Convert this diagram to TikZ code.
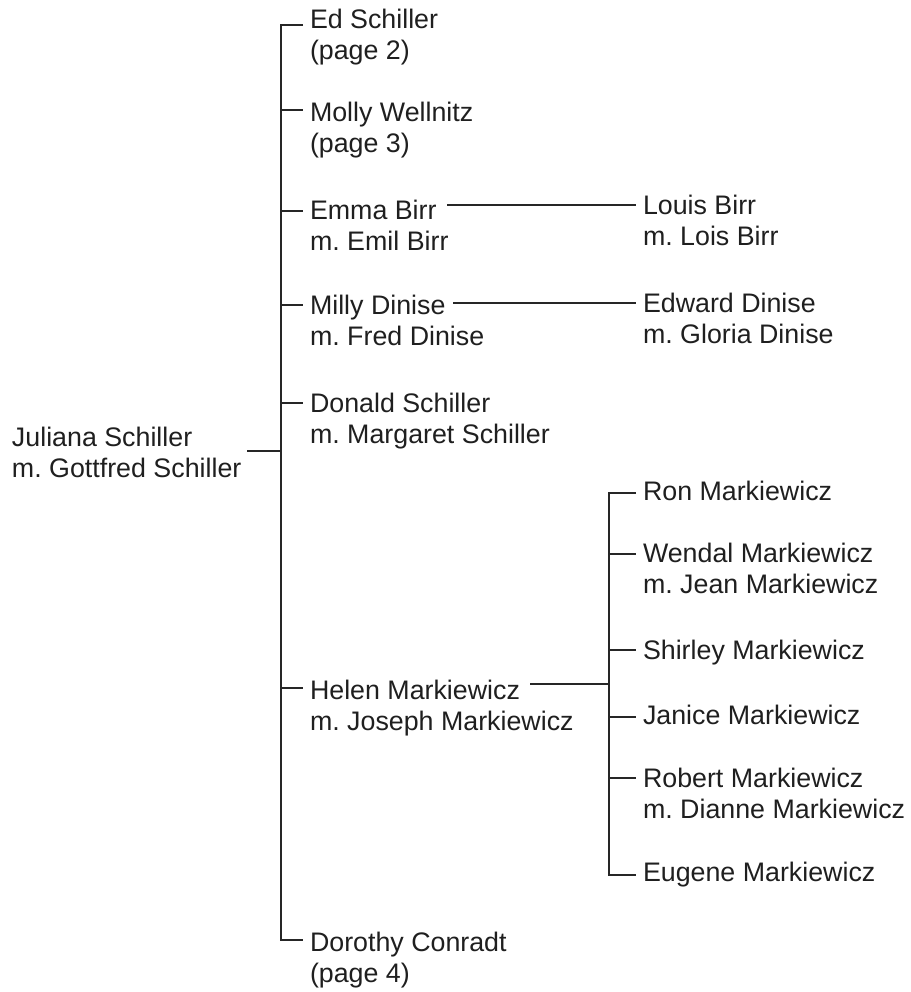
\documentclass[tikz,border=0pt]{standalone}
\usepackage{fontspec}
\setmainfont{Liberation Sans}
\usetikzlibrary{calc}
\frenchspacing
\newcommand{\twolines}[2]{\begin{tabular}[t]{@{}l@{}}#1\\#2\end{tabular}}
\begin{document}
\begin{tikzpicture}[x=1pt,y=-1pt,
  person/.style={anchor=base west, inner sep=0pt, outer sep=0pt,
    font=\fontsize{26.8}{31}\selectfont\frenchspacing, text=black!88},
  link/.style={draw=black!85, line width=1.3pt, line cap=butt, line join=miter},
  tick/.style={link, shorten >=7pt}]
\useasboundingbox (0,0) rectangle (910,992);

% root
\node[person] (ju) at (12,446.6) {\twolines{Juliana Schiller}{m. Gottfred Schiller}};

% children
\node[person] (ed) at (310,28.6) {\twolines{Ed Schiller}{(page 2)}};
\node[person] (mo) at (310,121.6) {\twolines{Molly Wellnitz}{(page 3)}};
\node[person] (em) at (310,219.6) {\twolines{Emma Birr}{m. Emil Birr}};
\node[person] (mi) at (310,314.6) {\twolines{Milly Dinise}{m. Fred Dinise}};
\node[person] (do) at (310,412.6) {\twolines{Donald Schiller}{m. Margaret Schiller}};
\node[person] (he) at (310,699.6) {\twolines{Helen Markiewicz}{m. Joseph Markiewicz}};
\node[person] (dc) at (310,951.6) {\twolines{Dorothy Conradt}{(page 4)}};

% grandchildren
\node[person] (lb) at (643,214.6) {\twolines{Louis Birr}{m. Lois Birr}};
\node[person] (edw) at (643,312.6) {\twolines{Edward Dinise}{m. Gloria Dinise}};
\node[person] (ron) at (643,500.6) {Ron Markiewicz};
\node[person] (we) at (643,562.6) {\twolines{Wendal Markiewicz}{m. Jean Markiewicz}};
\node[person] (sh) at (643,659.6) {Shirley Markiewicz};
\node[person] (ja) at (643,724.6) {Janice Markiewicz};
\node[person] (ro) at (643,787.6) {\twolines{Robert Markiewicz}{m. Dianne Markiewicz}};
\node[person] (eu) at (643,881.6) {Eugene Markiewicz};

% trunk coordinates
\coordinate (jT) at (281,451);
\coordinate (cEd) at (281,25);
\coordinate (cMo) at (281,110);
\coordinate (cEm) at (281,211);
\coordinate (cMi) at (281,305);
\coordinate (cDo) at (281,403);
\coordinate (cHe) at (281,688);
\coordinate (cDc) at (281,940);

\draw[link, shorten <=6pt] (jT -| ju.east) -- (jT);
\draw[link, shorten <=7pt, shorten >=7pt] (cEd -| ed.west) -- (cEd) -- (cDc) -- (cDc -| dc.west);
\draw[tick] (cMo) -- (cMo -| mo.west);
\draw[tick] (cEm) -- (cEm -| em.west);
\draw[tick] (cMi) -- (cMi -| mi.west);
\draw[tick] (cDo) -- (cDo -| do.west);
\draw[tick] (cHe) -- (cHe -| he.west);

% Emma -> Louis, Milly -> Edward
\coordinate (eL) at (447,205);
\coordinate (mL) at (453,303);
\draw[tick] (eL) -- (eL -| lb.west);
\draw[tick] (mL) -- (mL -| edw.west);

% Helen -> her children
\coordinate (hL) at (530,684);
\coordinate (hJ) at (609,684);
\draw[link] (hL) -- (hJ);
\coordinate (kRon) at (609,493);
\coordinate (kWe) at (609,554);
\coordinate (kSh) at (609,650);
\coordinate (kJa) at (609,717);
\coordinate (kRo) at (609,778);
\coordinate (kEu) at (609,875);
\draw[link, shorten <=7pt, shorten >=7pt] (kRon -| ron.west) -- (kRon) -- (kEu) -- (kEu -| eu.west);
\draw[tick] (kWe) -- (kWe -| we.west);
\draw[tick] (kSh) -- (kSh -| sh.west);
\draw[tick] (kJa) -- (kJa -| ja.west);
\draw[tick] (kRo) -- (kRo -| ro.west);
\end{tikzpicture}
\end{document}
